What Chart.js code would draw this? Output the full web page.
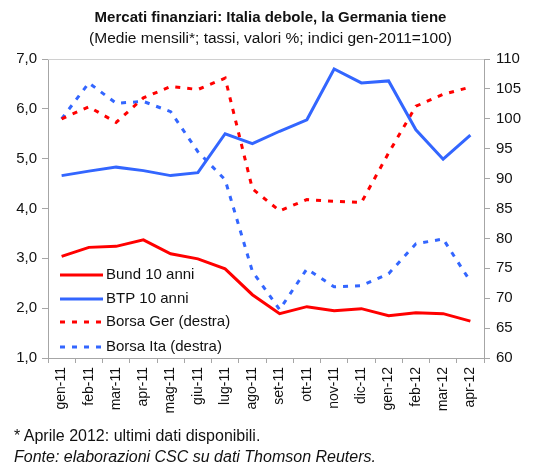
<!DOCTYPE html>
<html>
<head>
<meta charset="utf-8">
<script src="https://cdn.jsdelivr.net/npm/chart.js@4.4.1/dist/chart.umd.min.js"></script>
<style>
  body { margin: 0; background: #fff; font-family: "Liberation Sans", Arial, sans-serif; }
  #wrap { position: relative; width: 541px; height: 467px; }
  .txt { position: absolute; color: #111; white-space: nowrap; }
  #title { left: 0; width: 541px; text-align: center; top: 8px; font-weight: bold; font-size: 15px; }
  #subtitle { left: 0; width: 541px; text-align: center; top: 29px; font-size: 15.5px; }
  #note { left: 14px; top: 427px; font-size: 16px; }
  #source { left: 14px; top: 448px; font-size: 16px; font-style: italic; }
</style>
</head>
<body>
<div id="wrap">
  <canvas id="myChart"></canvas>
  <div class="txt" id="title">Mercati finanziari: Italia debole, la Germania tiene</div>
  <div class="txt" id="subtitle">(Medie mensili*; tassi, valori %; indici gen-2011=100)</div>
  <div class="txt" id="note">* Aprile 2012: ultimi dati disponibili.</div>
  <div class="txt" id="source">Fonte: elaborazioni CSC su dati Thomson Reuters.</div>
</div>
<script>
const months = ['gen-11', 'feb-11', 'mar-11', 'apr-11', 'mag-11', 'giu-11', 'lug-11', 'ago-11',
  'set-11', 'ott-11', 'nov-11', 'dic-11', 'gen-12', 'feb-12', 'mar-12', 'apr-12'];

// tassi a 10 anni (%), asse sinistro
const bund = [3.04, 3.22, 3.24, 3.37, 3.09, 2.99, 2.79, 2.27, 1.89, 2.03, 1.95, 1.99, 1.85, 1.91, 1.89, 1.74];
const btp = [4.66, 4.75, 4.83, 4.76, 4.66, 4.72, 5.50, 5.30, 5.55, 5.78, 6.80, 6.52, 6.56, 5.58, 4.99, 5.47];

// indici di borsa gen-2011=100, asse destro
const borsaGer = [100.0, 102.0, 99.4, 103.5, 105.4, 104.9, 106.8, 88.3, 84.6, 86.5, 86.2, 86.0, 94.3, 102.1, 104.1, 105.3];
const borsaIta = [100.0, 106.0, 102.6, 102.9, 101.2, 94.5, 89.8, 74.5, 68.1, 74.9, 71.9, 72.1, 74.1, 79.1, 79.9, 72.8];

const RED = '#ff0000';
const BLUE = '#3366ff';
const AXIS = '#a6a6a6';

// legenda disegnata dentro l'area del grafico, in basso a sinistra
const insideLegend = {
  id: 'insideLegend',
  afterDatasetsDraw(chart) {
    const ctx = chart.ctx;
    const x0 = 60, x1 = 103, rows = [275, 299, 322, 347];
    ctx.save();
    ctx.font = '15px "Liberation Sans", Arial, sans-serif';
    ctx.textBaseline = 'middle';
    chart.data.datasets.forEach((ds, i) => {
      const y = rows[i];
      ctx.strokeStyle = ds.borderColor;
      ctx.lineWidth = ds.borderWidth;
      ctx.setLineDash(ds.borderDash || []);
      ctx.beginPath();
      ctx.moveTo(x0, y);
      ctx.lineTo(x1, y);
      ctx.stroke();
      ctx.setLineDash([]);
      ctx.fillStyle = '#111';
      ctx.fillText(ds.label, x1 + 3, y);
    });
    // bordo superiore dell'area
    const a = chart.chartArea;
    ctx.strokeStyle = '#d0d0d0';
    ctx.lineWidth = 1;
    ctx.beginPath();
    ctx.moveTo(a.left, a.top + 0.5);
    ctx.lineTo(a.right, a.top + 0.5);
    ctx.stroke();
    ctx.restore();
  }
};

const ctx = document.getElementById('myChart');

new Chart(ctx, {
  type: 'line',
  data: {
    labels: months,
    datasets: [
      { label: 'Bund 10 anni', data: bund, yAxisID: 'y', borderColor: RED, borderWidth: 3 },
      { label: 'BTP 10 anni', data: btp, yAxisID: 'y', borderColor: BLUE, borderWidth: 3 },
      { label: 'Borsa Ger (destra)', data: borsaGer, yAxisID: 'y1', borderColor: RED, borderWidth: 3, borderDash: [5, 7] },
      { label: 'Borsa Ita (destra)', data: borsaIta, yAxisID: 'y1', borderColor: BLUE, borderWidth: 3, borderDash: [5, 7] }
    ]
  },
  options: {
    responsive: true,
    maintainAspectRatio: false,
    animation: false,
    devicePixelRatio: 1,
    layout: { padding: { top: 59, left: 0, right: 0, bottom: 0 } },
    elements: { point: { radius: 0 }, line: { tension: 0, fill: false } },
    plugins: { legend: { display: false }, tooltip: { enabled: false } },
    scales: {
      x: {
        offset: true,
        grid: { offset: true, drawOnChartArea: false, color: AXIS, tickLength: 5 },
        border: { color: AXIS },
        ticks: {
          autoSkip: false, minRotation: 90, maxRotation: 90, padding: 4,
          color: '#111', font: { family: '"Liberation Sans", Arial, sans-serif', size: 14 }
        },
        afterFit(scale) { scale.height = 109; }
      },
      y: {
        position: 'left',
        min: 1, max: 7,
        grid: { drawOnChartArea: false, color: AXIS, tickLength: 6 },
        border: { color: AXIS },
        ticks: {
          stepSize: 1, padding: 5, color: '#111',
          font: { family: '"Liberation Sans", Arial, sans-serif', size: 15 },
          callback: v => v.toFixed(1).replace('.', ',')
        },
        afterFit(scale) { scale.width = 48; }
      },
      y1: {
        position: 'right',
        min: 60, max: 110,
        grid: { drawOnChartArea: false, color: AXIS, tickLength: 6 },
        border: { color: AXIS },
        ticks: {
          stepSize: 5, padding: 6, color: '#111',
          font: { family: '"Liberation Sans", Arial, sans-serif', size: 15 }
        },
        afterFit(scale) { scale.width = 57; }
      }
    }
  },
  plugins: [insideLegend]
});
</script>
</body>
</html>
